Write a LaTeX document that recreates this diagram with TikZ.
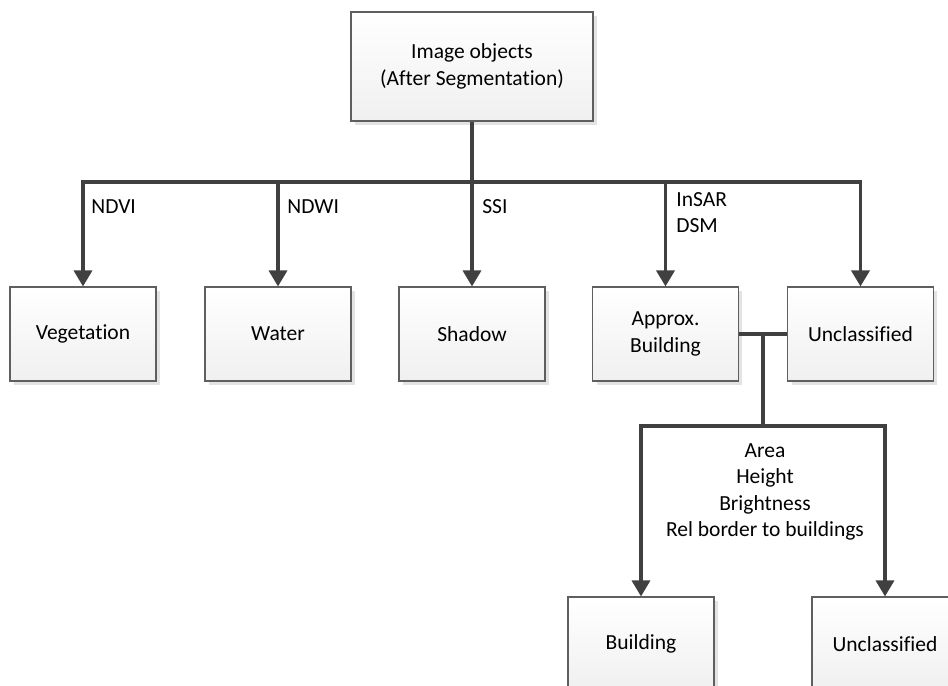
\documentclass[tikz,border=0pt]{standalone}
\usepackage{fontspec}
\setmainfont{Carlito}[Ligatures=NoCommon]
\usetikzlibrary{arrows.meta,shadows,positioning}

\definecolor{boxline}{HTML}{5F5F5F}
\definecolor{linkline}{HTML}{404040}

\tikzset{
  classbox/.style={draw=boxline, line width=0.6pt, top color=white, bottom color=black!6,
    minimum width=2.92cm, minimum height=1.88cm, align=center, inner sep=2pt,
    font=\fontsize{12.25}{15}\selectfont,
    drop shadow={shadow xshift=0.08cm, shadow yshift=-0.08cm, fill=black!11, opacity=1}},
  link/.style={draw=linkline, line width=1.9pt},
  arr/.style={link, -{Triangle[length=0.32cm, width=0.36cm]}},
  rule/.style={font=\fontsize{12.25}{15}\selectfont, inner sep=0pt}
}

\begin{document}
\begin{tikzpicture}[x=0.02cm, y=-0.02cm]
  \useasboundingbox (0,0) rectangle (948,686);
  \clip (0,0) rectangle (948,686);

  % root of the rule set
  \node[classbox, minimum width=4.84cm, minimum height=2.18cm] (img) at (472,66.5)
    {Image objects\\(After Segmentation)};

  % first level classes
  \node[classbox] (veg)    at (83,334)    {Vegetation};
  \node[classbox] (water)  at (278,334)   {Water};
  \node[classbox] (shadow) at (472,334)   {Shadow};
  \node[classbox] (approx) at (665.5,334) {Approx.\\Building};
  \node[classbox] (uncl)   at (860.5,334) {Unclassified};

  % second level classes (cut off at the bottom)
  \node[classbox] (bld)   at (641,644) {Building};
  \node[classbox] (uncl2) at (885,644) {Unclassified};

  % junction points
  \coordinate (bus)  at (472,182);
  \coordinate (fork) at (763,334);
  \coordinate (bus2) at (763,426);

  % first split
  \draw[link] (img.south) -- (bus);
  \draw[arr] (bus) -| (veg.north);
  \draw[arr] (bus) -| (water.north);
  \draw[arr] (bus) -- (shadow.north);
  \draw[arr] (bus) -| (approx.north);
  \draw[arr] (bus) -| (uncl.north);

  % second split
  \draw[link] (approx.east) -- (uncl.west);
  \draw[link] (fork) -- (bus2);
  \draw[arr] (bus2) -| (bld.north);
  \draw[arr] (bus2) -| (uncl2.north);

  % rule labels
  \node[rule, anchor=west] (ndvi)  at (91,207)  {NDVI};
  \node[rule, anchor=west] (ndwi)  at (287,207) {NDWI};
  \node[rule, anchor=west] (ssi)   at (482,207) {SSI};
  \node[rule, anchor=west, align=left] (insar) at (676,212.5) {InSAR\\DSM};
  \node[rule, align=center] (crit) at (765,492)
    {Area\\Height\\Brightness\\Rel border to buildings};
\end{tikzpicture}
\end{document}
